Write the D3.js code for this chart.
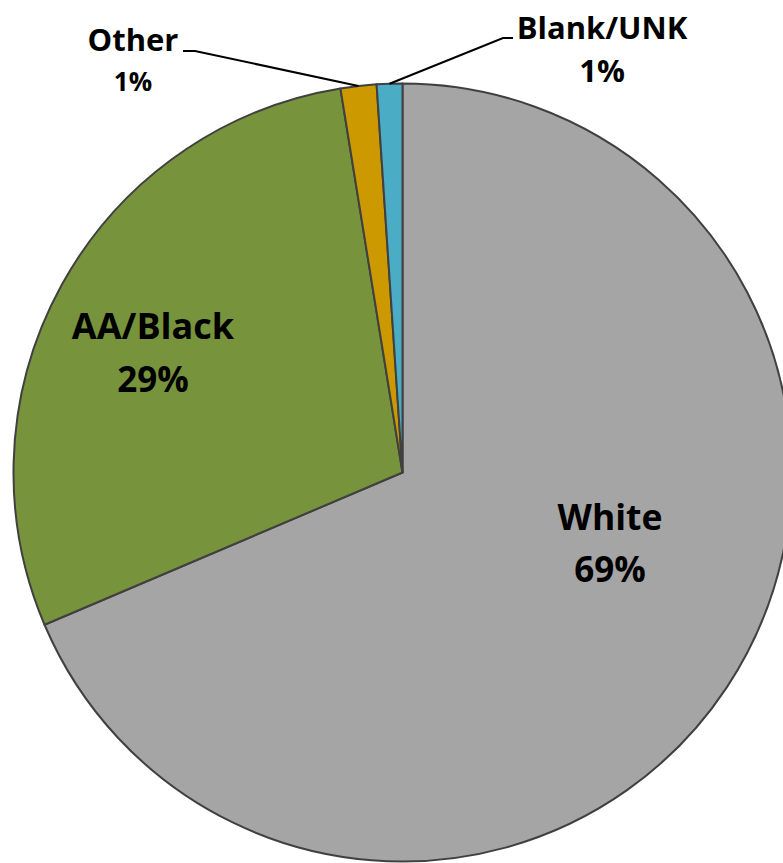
<!DOCTYPE html>
<html><head><meta charset="utf-8">
<script src="https://cdn.jsdelivr.net/npm/d3@7"></script>
<style>html,body{margin:0;padding:0;background:#fff;overflow:hidden}</style>
</head><body>
<svg id="c" width="783" height="863"></svg>
<script>
const categories = ["White", "AA/Black", "Other", "Blank/UNK"];
const values = [68.6, 28.85, 1.49, 1.06];
const pctLabels = ["69%", "29%", "1%", "1%"];
const colors = ["#A5A5A5", "#77933C", "#CC9900", "#4BACC6"];

const svg = d3.select("#c");
const cx = 402.5, cy = 472.5, R = 389;
const g = svg.append("g").attr("transform", `translate(${cx},${cy})`);
const pie = d3.pie().sort(null).value(d => d)(values);
const arc = d3.arc().innerRadius(0).outerRadius(R);
g.selectAll("path").data(pie).join("path")
  .attr("d", arc).attr("fill", (d, i) => colors[i])
  .attr("stroke", "#404040").attr("stroke-width", 2).attr("stroke-linejoin", "round");

const font = "'Open Sans', sans-serif";
// label layout: [x, y of first baseline, line gap, size1, size2]
const layout = [
  {x: 610, y: 530, gap: 52, s1: 35.5, s2: 35},
  {x: 153, y: 339, gap: 53, s1: 36, s2: 35},
  {x: 133, y: 51, gap: 40, s1: 31, s2: 26},
  {x: 602, y: 39, gap: 43, s1: 31, s2: 31}
];
categories.forEach((c, i) => {
  const L = layout[i];
  const t = svg.append("text").attr("text-anchor", "middle")
    .attr("font-family", font).attr("font-weight", "bold").attr("fill", "#000");
  t.append("tspan").attr("x", L.x).attr("y", L.y).attr("font-size", L.s1).text(c);
  t.append("tspan").attr("x", L.x).attr("y", L.y + L.gap).attr("font-size", L.s2).text(pctLabels[i]);
});

// leader lines from arc edge of small slices
function edgePoint(d, frac) {
  const a = d.startAngle + (d.endAngle - d.startAngle) * frac;
  return [cx + R * Math.sin(a), cy - R * Math.cos(a)];
}
const otherP = edgePoint(pie[2], 0.5);
const blankP = edgePoint(pie[3], 0.5);
svg.append("polyline").attr("points", [[183, 51], [195, 51], otherP].map(p => p.join(",")).join(" "))
  .attr("fill", "none").attr("stroke", "#000").attr("stroke-width", 2);
svg.append("polyline").attr("points", [[513, 38], [503, 38], blankP].map(p => p.join(",")).join(" "))
  .attr("fill", "none").attr("stroke", "#000").attr("stroke-width", 2);
</script>
</body></html>
